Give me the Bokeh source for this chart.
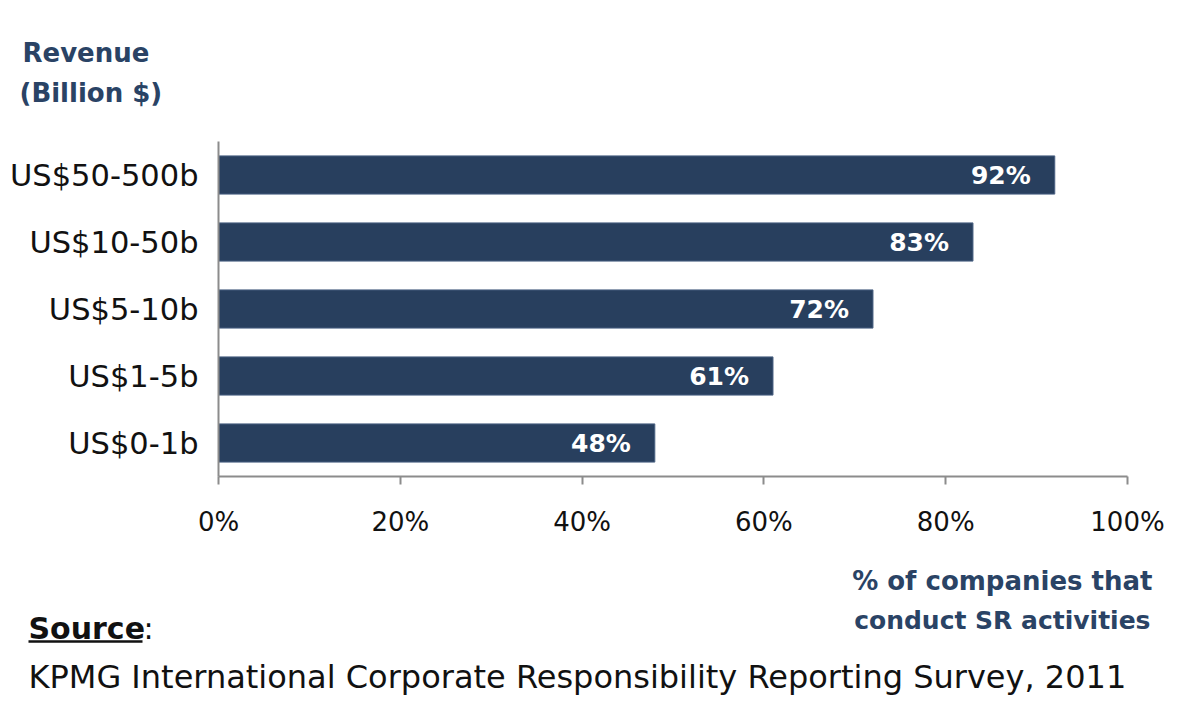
from bokeh.plotting import figure
from bokeh.layouts import column
from bokeh.models import FactorRange, Range1d, ColumnDataSource, FixedTicker
from bokeh.embed import file_html
from bokeh.resources import INLINE
from bokeh.core.properties import value

categories = ["US$0-1b", "US$1-5b", "US$5-10b", "US$10-50b", "US$50-500b"]
shares = [48, 61, 72, 83, 92]
labels = [f"{v}%" for v in shares]
x_ticks = [0, 20, 40, 60, 80, 100]

BAR = "#283f5e"
NAVY = "#2a4365"
INK = "#111111"
FONT = "DejaVu Sans"

W, H = 1174, 711
FL, FR, FT, FB = 218, 1127, 141, 476   # plot frame (page pixels)
TOP_H = 120                             # header strip height
MAIN_END = 555                          # bottom of the main figure
BASE_SHIFT = 10                         # alphabetic baseline correction


def strip(height):
    f = figure(width=W, height=height, output_backend="svg", toolbar_location=None,
               x_range=Range1d(0, W), y_range=Range1d(height, 0),
               min_border=0, min_border_left=0, min_border_right=0,
               min_border_top=0, min_border_bottom=0, frame_align=False)
    f.axis.visible = False
    f.grid.visible = False
    f.outline_line_color = None
    f.background_fill_color = "white"
    f.border_fill_color = "white"
    return f


def put(f, top, text, X, Y, size, bold=False, color=NAVY, align="left"):
    f.text(x=[X], y=[Y - top - BASE_SHIFT], text=[text], text_font=value(FONT),
           text_font_size=size, text_font_style="bold" if bold else "normal",
           text_color=color, text_align=align, text_baseline="alphabetic")


# header
head = strip(TOP_H)
put(head, 0, "Revenue", 22, 62, "26px", bold=True)
put(head, 0, "(Billion $)", 19, 102, "26px", bold=True)

# main chart
src = ColumnDataSource(dict(cat=categories, val=shares, lab=labels))
p = figure(width=W, height=MAIN_END - TOP_H, output_backend="svg", toolbar_location=None,
           y_range=FactorRange(*categories, range_padding=0),
           x_range=Range1d(0, 100), frame_align=False,
           min_border_left=FL, min_border_right=W - FR,
           min_border_top=FT - TOP_H, min_border_bottom=MAIN_END - FB)
p.outline_line_color = None
p.grid.grid_line_color = None
p.background_fill_color = "white"
p.border_fill_color = "white"

p.hbar(y="cat", right="val", left=0, height=0.57, source=src,
       fill_color=BAR, line_color="#4b6283", line_width=1)
p.text(x="val", y="cat", text="lab", source=src, x_offset=-24,
       text_align="right", text_baseline="middle", text_color="white",
       text_font=value(FONT), text_font_style="bold", text_font_size="25px")

xa = p.xaxis[0]
xa.ticker = FixedTicker(ticks=x_ticks)
xa.major_label_overrides = {t: f"{t}%" for t in x_ticks}
xa.axis_line_color = "#8c8c8c"
xa.axis_line_width = 2
xa.major_tick_line_color = "#8c8c8c"
xa.major_tick_line_width = 2
xa.major_tick_out = 8
xa.major_tick_in = 0
xa.minor_tick_line_color = None
xa.major_label_text_font = FONT
xa.major_label_text_font_size = "26px"
xa.major_label_text_color = INK
xa.major_label_standoff = 22

ya = p.yaxis[0]
ya.axis_line_color = "#8c8c8c"
ya.axis_line_width = 2
ya.major_tick_line_color = None
ya.minor_tick_line_color = None
ya.major_label_text_font = FONT
ya.major_label_text_font_size = "30.5px"
ya.major_label_text_color = INK
ya.major_label_standoff = 14

# footer
foot = strip(H - MAIN_END)
T = MAIN_END
put(foot, T, "% of companies that", 1152, 590, "26px", bold=True, align="right")
put(foot, T, "conduct SR activities", 1150, 630, "25px", bold=True, align="right")
put(foot, T, "Source", 28, 638, "30px", bold=True, color=INK)
put(foot, T, ":", 143, 638, "30px", color=INK)
foot.segment(x0=[28], y0=[641 - T], x1=[142], y1=[641 - T], line_color=INK, line_width=2.5)
put(foot, T, "KPMG International Corporate Responsibility Reporting Survey, 2011", 28, 686,
    "32px", color=INK)

layout = column(head, p, foot, spacing=0)
open("out.html", "w").write(file_html(layout, INLINE))
